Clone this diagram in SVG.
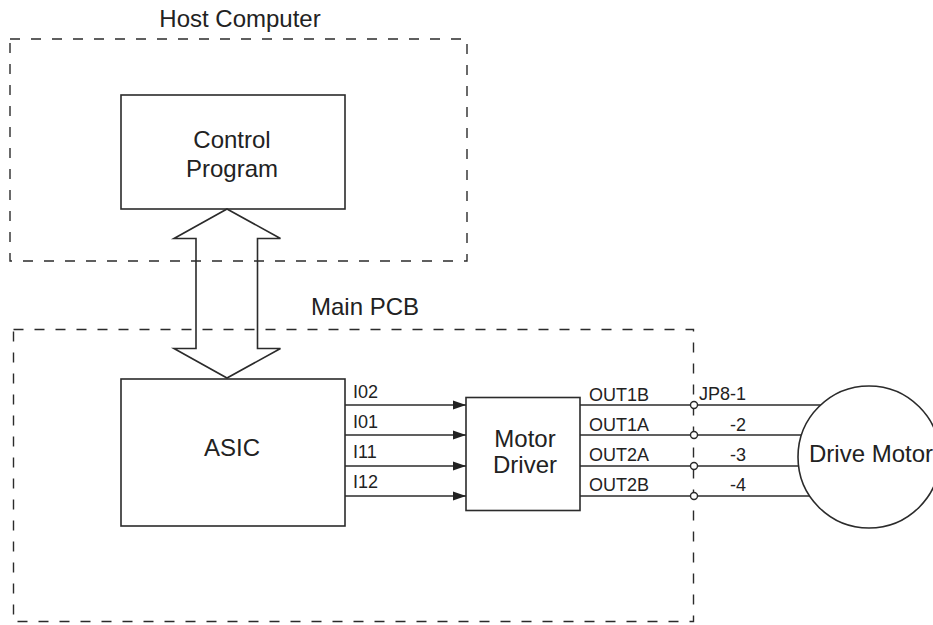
<svg xmlns="http://www.w3.org/2000/svg" width="933" height="625" viewBox="0 0 933 625">
<style>
.t{font-family:"Liberation Sans",Arial,sans-serif;fill:#222}
.big{font-size:24px}
.pin{font-size:18px}
.box{fill:#fff;stroke:#2b2b2b;stroke-width:1.6}
.dash{fill:none;stroke:#2b2b2b;stroke-width:1.4;stroke-dasharray:10 11}
.wire{fill:none;stroke:#2b2b2b;stroke-width:1.6}
.pinc{fill:#fff;stroke:#2b2b2b;stroke-width:1.4}
</style>
<defs>
<marker id="ah" markerUnits="userSpaceOnUse" markerWidth="14" markerHeight="10" refX="13" refY="5" orient="auto">
<path d="M0,0.5 L13,5 L0,9.5 Z" fill="#222"/>
</marker>
</defs>
<rect width="933" height="625" fill="#fff"/>

<g id="host-computer">
<rect class="dash" x="10" y="39" width="457" height="222"/>
<text class="t big" x="240" y="27" text-anchor="middle">Host Computer</text>
</g>

<g id="main-pcb">
<rect class="dash" x="13.5" y="329.5" width="680" height="292"/>
<text class="t big" x="365" y="315" text-anchor="middle">Main PCB</text>
</g>

<g id="control-program">
<rect class="box" x="121" y="95" width="224" height="114"/>
<text class="t big" x="232" y="148" text-anchor="middle">Control</text>
<text class="t big" x="232" y="177" text-anchor="middle">Program</text>
</g>

<g id="asic">
<rect class="box" x="121" y="379" width="224" height="147"/>
<text class="t big" x="232" y="456" text-anchor="middle">ASIC</text>
</g>

<g id="motor-driver">
<rect class="box" x="466" y="397.5" width="114" height="113"/>
<text class="t big" x="525" y="447" text-anchor="middle">Motor</text>
<text class="t big" x="525" y="473" text-anchor="middle">Driver</text>
</g>

<g id="drive-motor">
<circle cx="869" cy="457" r="71" fill="#fff" stroke="#2b2b2b" stroke-width="1.6"/>
<text class="t big" x="809" y="462">Drive Motor</text>
</g>

<g id="connectors">
<polygon class="wire" points="227,209 280.5,238.5 257.5,238.5 257.5,348.5 280.5,348.5 227,378 174,348.5 196,348.5 196,238.5 174,238.5"/>
<line class="wire" x1="345" y1="405" x2="466" y2="405" marker-end="url(#ah)"/>
<line class="wire" x1="345" y1="435" x2="466" y2="435" marker-end="url(#ah)"/>
<line class="wire" x1="345" y1="466" x2="466" y2="466" marker-end="url(#ah)"/>
<line class="wire" x1="345" y1="496" x2="466" y2="496" marker-end="url(#ah)"/>
<line class="wire" x1="580" y1="405" x2="820.7" y2="405"/>
<line class="wire" x1="580" y1="435" x2="801" y2="435"/>
<line class="wire" x1="580" y1="466" x2="798.6" y2="466"/>
<line class="wire" x1="580" y1="496" x2="809.7" y2="496"/>
<circle class="pinc" cx="694" cy="405" r="3.5"/>
<circle class="pinc" cx="694" cy="435" r="3.5"/>
<circle class="pinc" cx="694" cy="466" r="3.5"/>
<circle class="pinc" cx="694" cy="496" r="3.5"/>
<text class="t pin" x="353" y="398">I02</text>
<text class="t pin" x="353" y="428">I01</text>
<text class="t pin" x="353" y="458">I11</text>
<text class="t pin" x="353" y="488">I12</text>
<text class="t pin" x="589" y="401">OUT1B</text>
<text class="t pin" x="589" y="431">OUT1A</text>
<text class="t pin" x="589" y="461">OUT2A</text>
<text class="t pin" x="589" y="491">OUT2B</text>
<text class="t pin" x="699" y="400">JP8-1</text>
<text class="t pin" x="746" y="431" text-anchor="end">-2</text>
<text class="t pin" x="746" y="461" text-anchor="end">-3</text>
<text class="t pin" x="746" y="491" text-anchor="end">-4</text>
</g>
</svg>
